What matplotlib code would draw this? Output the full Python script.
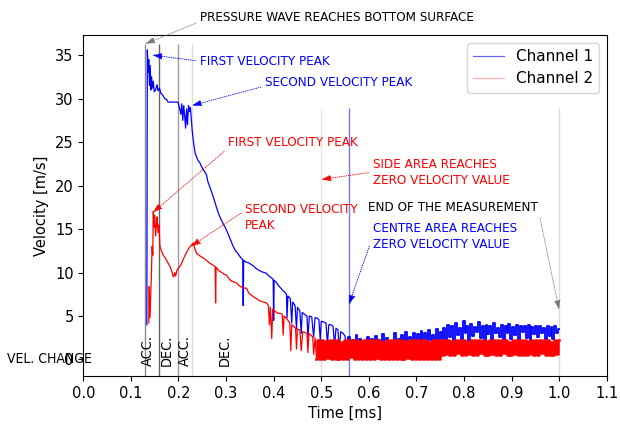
import numpy as np
import matplotlib
matplotlib.use("Agg")
import matplotlib.pyplot as plt
from matplotlib import font_manager

# Channel 1 (blue) - main curve
ch1_t = [0.1335, 0.1345, 0.1365, 0.1375, 0.139, 0.1405, 0.142, 0.1435, 0.145, 0.147,
         0.149, 0.152, 0.155, 0.157, 0.160, 0.163, 0.167, 0.171, 0.175, 0.178,
         0.185, 0.192, 0.199, 0.202, 0.205, 0.207, 0.209, 0.211, 0.213, 0.215,
         0.217, 0.219, 0.221, 0.223, 0.225, 0.227, 0.229, 0.232, 0.235, 0.240,
         0.245, 0.250, 0.255, 0.259, 0.262, 0.266, 0.270, 0.273, 0.277, 0.281,
         0.284, 0.287, 0.292, 0.298, 0.303, 0.309, 0.315, 0.320, 0.326, 0.331,
         0.335, 0.336, 0.337, 0.342, 0.348, 0.353, 0.357, 0.362, 0.368, 0.374,
         0.380, 0.385, 0.390, 0.395, 0.399, 0.400, 0.401, 0.405, 0.410, 0.415,
         0.420, 0.424, 0.427, 0.428, 0.430, 0.435, 0.438, 0.440, 0.445, 0.448,
         0.450, 0.455, 0.458, 0.460, 0.465, 0.470, 0.472, 0.475, 0.480, 0.484,
         0.487, 0.490, 0.495, 0.498, 0.500, 0.505, 0.510, 0.513, 0.516, 0.520,
         0.525, 0.528, 0.531, 0.535, 0.538, 0.541, 0.546, 0.550]
ch1_v = [4.0, 35.6, 33.0, 34.5, 31.5, 33.8, 31.0, 32.5, 31.2, 32.0,
         30.8, 31.0, 31.6, 30.9, 31.2, 30.6, 30.4, 30.0, 29.9, 29.6,
         29.6, 29.6, 29.6, 29.0, 28.2, 29.4, 27.5, 29.2, 28.0, 26.6,
         28.8, 27.0, 29.2, 28.5, 29.0, 27.6, 26.2, 24.8, 23.7, 23.0,
         22.6, 22.0, 21.6, 21.2, 20.4, 19.8, 19.2, 18.7, 18.0, 17.3,
         16.8, 16.4, 15.8, 15.2, 14.6, 13.8, 13.0, 12.5, 12.1, 11.7,
         11.5, 6.2, 11.4, 11.2, 11.1, 10.9, 10.8, 10.5, 10.3, 10.1,
         10.0, 9.9, 9.6, 9.4, 9.2, 4.5, 9.1, 8.9, 8.5, 8.2,
         7.9, 7.7, 7.5, 4.8, 7.3, 7.0, 4.2, 6.6, 6.2, 3.5,
         6.0, 5.6, 3.0, 5.4, 5.2, 5.0, 2.5, 5.0, 4.9, 2.6,
         4.8, 4.8, 4.6, 2.2, 4.4, 4.3, 4.2, 1.8, 4.0, 4.0,
         3.8, 1.5, 3.6, 3.4, 1.2, 3.2, 3.0, 2.7]
# Channel 1 noisy tail, sampled every 4 us from 0.554 ms to 1.0 ms
ch1_tail_start, ch1_tail_end = 0.554, 1.0
ch1_tail = [1.0, 2.6, 0.4, 2.2, 1.2, 2.8, 0.6, 2.4, 1.4, 2.0, 0.8, 2.6, 1.6, 2.3, 0.5, 2.7,
            1.1, 2.2, 1.8, 2.9, 0.9, 2.5, 1.3, 2.1, 1.7, 3.0, 1.0, 2.4, 1.5, 2.8, 1.2, 3.2,
            1.6, 2.6, 1.4, 3.0, 1.8,
            2.9, 1.5, 3.3, 2.0, 3.0, 1.6, 3.4, 2.2, 2.8, 1.9, 3.5, 2.1, 3.2, 2.4, 3.6,
            2.2, 4.0, 2.6, 3.8, 1.8, 4.2, 2.8, 3.6, 2.4, 4.4, 3.0, 3.9, 2.0, 4.1, 2.7, 3.7,
            3.2, 4.3, 2.5, 3.9, 1.9, 4.0, 2.9, 3.8, 2.3, 4.2, 3.1, 3.6, 2.6, 4.0, 2.1, 3.9,
            3.0, 4.1, 2.4, 3.7, 2.8, 4.0, 2.2, 3.8, 3.2, 3.9, 2.5, 4.0, 2.0, 3.7, 2.9, 3.9,
            2.6, 3.8, 3.0, 3.6, 2.4, 3.9, 2.7, 3.7, 2.3, 3.8, 3.0, 3.5]

# Channel 2 (red) - main curve
ch2_t = [0.1375, 0.1385, 0.1395, 0.141, 0.143, 0.1445, 0.146, 0.147, 0.1485, 0.150,
         0.152, 0.154, 0.155, 0.157, 0.159, 0.161, 0.164, 0.168, 0.172, 0.175,
         0.179, 0.183, 0.186, 0.188, 0.190, 0.192, 0.194, 0.197, 0.200, 0.203,
         0.206, 0.210, 0.214, 0.218, 0.222, 0.225, 0.228, 0.231, 0.234, 0.238,
         0.243, 0.248, 0.254, 0.259, 0.265, 0.271, 0.277, 0.278, 0.279, 0.285,
         0.291, 0.296, 0.301, 0.306, 0.312, 0.317, 0.322, 0.327, 0.333, 0.338,
         0.343, 0.348, 0.353, 0.358, 0.364, 0.369, 0.374, 0.379, 0.385, 0.389,
         0.391, 0.393, 0.396, 0.398, 0.402, 0.406, 0.410, 0.414, 0.418, 0.420,
         0.422, 0.426, 0.430, 0.434, 0.436, 0.438, 0.442, 0.446, 0.448, 0.450,
         0.455, 0.458, 0.461, 0.466, 0.470, 0.472, 0.474, 0.478, 0.482, 0.484,
         0.487]
ch2_v = [4.2, 8.4, 4.8, 6.5, 9.5, 13.0, 12.0, 17.0, 15.2, 16.6,
         14.2, 15.8, 16.4, 14.6, 15.5, 13.0, 12.5, 12.0, 11.7, 11.4,
         11.0, 10.6, 10.1, 9.7, 9.5, 10.0, 9.6, 10.3, 10.5, 10.7,
         11.0, 11.5, 12.0, 12.4, 12.8, 13.0, 13.2, 13.4, 12.8, 12.2,
         12.0, 11.8, 11.6, 11.4, 11.1, 10.9, 10.7, 6.5, 10.6, 10.2,
         10.0, 9.8, 9.7, 9.3, 9.0, 8.9, 8.8, 8.5, 8.3, 8.2,
         8.2, 7.6, 7.4, 7.2, 7.0, 6.8, 6.7, 6.6, 6.5, 6.2,
         4.0, 6.0, 2.4, 5.8, 5.6, 5.4, 5.3, 5.3, 5.2, 2.8,
         5.0, 4.8, 4.5, 4.2, 1.0, 4.0, 3.8, 3.6, 1.2, 3.5,
         3.4, 1.0, 3.2, 3.1, 3.0, 0.8, 3.0, 2.8, 2.6, 0.6,
         2.5]
# Channel 2 noisy tail, 0.49 ms to 1.0 ms
ch2_tail_start, ch2_tail_end = 0.49, 1.0
ch2_tail = [0.0, 2.2, 0.1, 2.2, 0.0, 2.1, 0.2, 2.2, 0.0, 2.2, 0.0, 2.2, 0.1, 2.0, 0.0, 2.2,
            0.0, 2.2, 0.3, 2.2, 0.0, 2.2, 0.0, 2.1, 0.0, 2.2, 0.1, 2.2, 0.0, 2.2, 0.0, 2.2,
            0.2, 2.2, 0.0, 2.0, 0.0, 2.2, 0.0, 2.2, 0.1, 2.2, 0.0, 2.2, 0.0, 2.2, 0.0, 2.1,
            0.2, 2.2, 0.0, 2.2, 0.0, 2.2, 0.1, 2.2, 0.0, 2.2, 0.0, 2.0, 0.0, 2.2, 0.1, 2.2,
            0.0, 2.2,
            0.5, 2.2, 0.6, 2.2, 0.5, 2.1, 0.5, 2.2, 0.7, 2.2, 0.5, 2.2, 0.5, 2.0, 0.6, 2.2,
            0.5, 2.2, 0.5, 2.2, 0.8, 2.2, 0.5, 2.1, 0.5, 2.2, 0.6, 2.2, 0.5, 2.2, 0.5, 2.2,
            0.7, 2.2, 0.5, 2.0, 0.5, 2.2, 0.6, 2.2, 0.5, 2.2, 0.5, 2.2, 0.5, 2.1, 0.6, 2.2,
            0.5, 2.2, 0.5, 2.2, 0.7, 2.2, 0.5, 2.2, 0.5, 2.0, 0.5, 2.2, 0.6, 2.2]

# event markers (vertical lines)
phase_lines = [0.129, 0.158, 0.198, 0.228]
phase_colors = ["#8c8c8c", "#666666", "#9a9a9a", "#dddddd"]
phase_labels = ["ACC.", "DEC.", "ACC.", "DEC."]
phase_label_x = [0.135, 0.176, 0.214, 0.298]
event_lines = [0.5, 0.558, 1.0]
event_colors = ["#f7dede", "#6f7cf0", "#dcdcdc"]


def pickNarrowFont():
    # the original labels use a narrow face; take DejaVu Sans Condensed if present
    for f in font_manager.fontManager.ttflist:
        if f.name == "DejaVu Sans" and f.stretch == "condensed" and f.weight in (400, "normal"):
            return dict(family="DejaVu Sans", fontstretch="condensed"), 1.11
    return dict(family="Liberation Sans"), 1.0


def showGraph():
    font_kw, scale = pickNarrowFont()

    fig = plt.figure(figsize=(6.2, 4.24), dpi=100)
    ax = fig.add_axes([0.1344, 0.1132, 0.8442, 0.804])

    t1_tail = np.linspace(ch1_tail_start, ch1_tail_end, len(ch1_tail))
    t2_tail = np.linspace(ch2_tail_start, ch2_tail_end, len(ch2_tail))

    ax.vlines(phase_lines, -1.9, 36.3, colors=phase_colors, lw=1.0, zorder=1)
    ax.vlines(event_lines, -1.9, 28.9, colors=event_colors, lw=1.0, zorder=1)

    # channel 1: trend + noisy tail
    ax.plot(ch1_t + [t1_tail[0]], ch1_v + [ch1_tail[0]], color="blue", lw=0.9,
            label="Channel 1", zorder=2)
    ax.plot(t1_tail, ch1_tail, color="blue", lw=1.3, drawstyle="steps-mid", zorder=2)
    # channel 2
    ax.plot(ch2_t + [t2_tail[0]], ch2_v + [ch2_tail[0]], color="red", lw=0.9,
            label="Channel 2", zorder=3)
    ax.plot(t2_tail, ch2_tail, color="red", lw=1.8, drawstyle="steps-mid", zorder=3)

    for x, s in zip(phase_label_x, phase_labels):
        ax.text(x, -0.7, s, rotation=90, ha="center", va="bottom",
                fontsize=9.4 * scale, **font_kw)
    ax.text(-0.16, 0.0, "VEL. CHANGE", ha="left", va="center", fontsize=9.0 * scale,
            clip_on=False, **font_kw)

    # annotations
    def note(txt, xy, xytext, color, acolor, relpos=(0, 0.5)):
        ax.annotate(txt, xy=xy, xytext=xytext, color=color, fontsize=8.7 * scale,
                    ha="left", va="center", annotation_clip=False,
                    linespacing=1.3,
                    arrowprops=dict(arrowstyle="-|>,head_length=0.6,head_width=0.2",
                                    color=acolor, lw=0.6, linestyle=":",
                                    relpos=relpos, shrinkA=1, shrinkB=0),
                    **font_kw)

    note("PRESSURE WAVE REACHES BOTTOM SURFACE", (0.130, 36.3), (0.245, 39.3),
         "black", "#777777", relpos=(0, 0.2))
    note("FIRST VELOCITY PEAK", (0.145, 35.0), (0.245, 34.3), "blue", "blue")
    note("SECOND VELOCITY PEAK", (0.228, 29.2), (0.382, 31.9), "blue", "blue",
         relpos=(0, 0.2))
    note("FIRST VELOCITY PEAK", (0.146, 16.9), (0.304, 24.9), "red", "red",
         relpos=(0, 0.1))
    note("SECOND VELOCITY\nPEAK", (0.226, 13.0), (0.340, 16.3), "red", "red",
         relpos=(0, 0.75))
    note("SIDE AREA REACHES\nZERO VELOCITY VALUE", (0.500, 20.7), (0.608, 21.55),
         "red", "red", relpos=(0, 0.5))
    note("END OF THE MEASUREMENT", (1.0, 5.7), (0.598, 17.5), "black", "#777777",
         relpos=(1, 0.5))
    note("CENTRE AREA REACHES\nZERO VELOCITY VALUE", (0.558, 6.3), (0.608, 14.1),
         "blue", "blue", relpos=(0, 0.5))

    ax.set_xlim(0, 1.1)
    ax.set_ylim(-1.9, 37.3)
    ax.set_xticks(np.arange(0, 1.11, 0.1))
    ax.set_yticks([0, 5, 10, 15, 20, 25, 30, 35])
    ax.tick_params(labelsize=10.5)
    ax.set_xlabel("Time [ms]", fontsize=10.5)
    ax.set_ylabel("Velocity [m/s]", fontsize=10.5)

    leg = ax.legend(loc="upper right", fontsize=11)
    leg.get_lines()[0].set_alpha(0.6)
    leg.get_lines()[1].set_alpha(0.3)

    fig.savefig("out.png", dpi=100)


if __name__ == "__main__":
    showGraph()
